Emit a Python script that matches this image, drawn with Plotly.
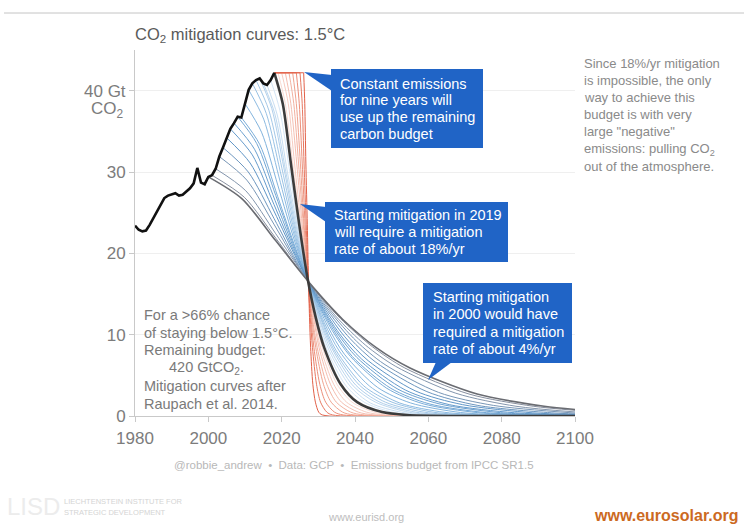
import plotly.graph_objects as go

# ---------------- data ----------------
hist_years = list(range(1980, 2019))
hist_vals = [23.4, 22.9, 22.7, 22.8, 23.5, 24.3, 25.1, 26.0, 26.8, 27.1,
             27.3, 27.4, 27.1, 27.2, 27.6, 28.0, 28.6, 30.5, 28.7, 28.5,
             29.4, 29.6, 30.4, 31.9, 33.0, 34.2, 35.3, 36.0, 36.8, 36.7,
             38.4, 40.1, 40.9, 41.3, 41.5, 40.9, 40.7, 41.3, 42.2]

blue_start_years = list(range(2000, 2018))
blue_curve_years = [
    [2000, 2009.2, 2018.3, 2027.5, 2036.6, 2045.8, 2055.0, 2073.3, 2091.6, 2100],
    [2001, 2009.8, 2018.5, 2027.3, 2036.0, 2044.8, 2053.6, 2071.1, 2088.6, 2100],
    [2002, 2010.2, 2018.4, 2026.6, 2034.7, 2042.9, 2051.1, 2067.5, 2083.9, 2100],
    [2003, 2010.5, 2018.0, 2025.4, 2032.9, 2040.4, 2047.9, 2062.8, 2077.8, 2100],
    [2004, 2010.9, 2017.9, 2024.8, 2031.8, 2038.7, 2045.7, 2059.6, 2073.5, 2094.3, 2100],
    [2005, 2011.4, 2017.9, 2024.3, 2030.7, 2037.1, 2043.6, 2056.4, 2069.3, 2088.5, 2100],
    [2006, 2012.0, 2017.9, 2023.9, 2029.9, 2035.8, 2041.8, 2053.7, 2065.7, 2083.5, 2100],
    [2007, 2012.6, 2018.2, 2023.8, 2029.4, 2035.0, 2040.5, 2051.7, 2062.9, 2079.7, 2096.4, 2100],
    [2008, 2013.2, 2018.4, 2023.7, 2028.9, 2034.1, 2039.3, 2049.8, 2060.2, 2075.9, 2091.5, 2100],
    [2009, 2014.0, 2018.9, 2023.9, 2028.8, 2033.8, 2038.8, 2048.7, 2058.6, 2073.5, 2088.4, 2100],
    [2010, 2014.5, 2019.0, 2023.6, 2028.1, 2032.6, 2037.1, 2046.2, 2055.2, 2068.8, 2082.3, 2100],
    [2011, 2015.1, 2019.2, 2023.3, 2027.5, 2031.6, 2035.7, 2043.9, 2052.2, 2064.5, 2076.8, 2100],
    [2012, 2015.8, 2019.6, 2023.4, 2027.2, 2031.0, 2034.8, 2042.4, 2050.1, 2061.5, 2072.9, 2100],
    [2013, 2016.5, 2020.1, 2023.6, 2027.1, 2030.7, 2034.2, 2041.2, 2048.3, 2058.9, 2069.5, 2100],
    [2014, 2017.3, 2020.6, 2023.8, 2027.1, 2030.4, 2033.7, 2040.2, 2046.8, 2056.6, 2066.4, 2100],
    [2015, 2018.1, 2021.1, 2024.2, 2027.2, 2030.3, 2033.4, 2039.5, 2045.6, 2054.8, 2064.0, 2100],
    [2016, 2018.8, 2021.6, 2024.5, 2027.3, 2030.1, 2032.9, 2038.6, 2044.2, 2052.7, 2061.1, 2100],
    [2017, 2019.5, 2022.1, 2024.6, 2027.2, 2029.7, 2032.3, 2037.4, 2042.5, 2050.1, 2057.7, 2100],
]
blue_curve_values = [
    [29.4, 26.7, 21.6, 16.4, 11.9, 8.4, 5.9, 2.7, 1.2, 0.8],
    [29.6, 26.9, 21.8, 16.5, 12.0, 8.5, 5.9, 2.7, 1.2, 0.7],
    [30.4, 27.7, 22.4, 17.0, 12.3, 8.7, 6.1, 2.8, 1.2, 0.5],
    [31.9, 29.0, 23.5, 17.8, 13.0, 9.2, 6.4, 2.9, 1.3, 0.36],
    [33.0, 30.0, 24.3, 18.4, 13.4, 9.5, 6.6, 3.0, 1.3, 0.37, 0.26],
    [34.2, 31.1, 25.2, 19.1, 13.9, 9.8, 6.8, 3.1, 1.4, 0.39, 0.18],
    [35.3, 32.1, 26.0, 19.7, 14.3, 10.1, 7.0, 3.2, 1.4, 0.40, 0.12],
    [36.0, 32.8, 26.5, 20.1, 14.6, 10.3, 7.2, 3.3, 1.5, 0.41, 0.11, 0.08],
    [36.8, 33.5, 27.1, 20.5, 14.9, 10.6, 7.3, 3.4, 1.5, 0.41, 0.11, 0.05],
    [36.7, 33.4, 27.0, 20.5, 14.9, 10.5, 7.3, 3.4, 1.5, 0.41, 0.11, 0.04],
    [38.4, 34.9, 28.3, 21.4, 15.6, 11.0, 7.6, 3.5, 1.6, 0.43, 0.12, 0.01],
    [40.1, 36.5, 29.5, 22.4, 16.3, 11.5, 8.0, 3.7, 1.6, 0.45, 0.12, 0.0],
    [40.9, 37.2, 30.1, 22.8, 16.6, 11.8, 8.1, 3.7, 1.7, 0.46, 0.12, 0.0],
    [41.3, 37.6, 30.4, 23.0, 16.8, 11.9, 8.2, 3.8, 1.7, 0.47, 0.12, 0.0],
    [41.5, 37.8, 30.5, 23.1, 16.8, 11.9, 8.3, 3.8, 1.7, 0.47, 0.13, 0.0],
    [40.9, 37.2, 30.1, 22.8, 16.6, 11.8, 8.1, 3.7, 1.7, 0.46, 0.12, 0.0],
    [40.7, 37.0, 29.9, 22.7, 16.5, 11.7, 8.1, 3.7, 1.6, 0.46, 0.12, 0.0],
    [41.3, 37.6, 30.4, 23.0, 16.8, 11.9, 8.2, 3.8, 1.7, 0.47, 0.12, 0.0],
]

# mitigation starting 2019 (18%/yr)
m2019_years = [2018, 2020.3, 2022.5, 2024.8, 2027.0, 2029.3, 2031.6, 2036.1, 2040.6, 2047.4, 2054.2, 2100]
m2019_values = [42.2, 38.4, 31.1, 23.5, 17.1, 12.1, 8.4, 3.9, 1.7, 0.48, 0.13, 0.0]

# constant emissions until a given year, then rapid decline
constant_level = 42.2
red_hold_until = [2019, 2020, 2021, 2022, 2023, 2024, 2025, 2026]
red_curve_years = [
    [2019, 2021.0, 2023.0, 2025.1, 2027.1, 2029.1, 2031.1, 2035.1, 2039.2, 2045.2, 2051.3, 2100],
    [2020, 2021.8, 2023.5, 2025.3, 2027.1, 2028.9, 2030.6, 2034.2, 2037.7, 2043.1, 2048.4, 2100],
    [2021, 2022.5, 2024.1, 2025.6, 2027.1, 2028.7, 2030.2, 2033.3, 2036.3, 2040.9, 2045.5, 2100],
    [2022, 2023.3, 2024.6, 2025.9, 2027.2, 2028.4, 2029.7, 2032.3, 2034.9, 2038.8, 2042.6, 2100],
    [2023, 2024.0, 2025.1, 2026.1, 2027.2, 2028.2, 2029.3, 2031.4, 2033.5, 2036.6, 2039.7, 2100],
    [2024, 2024.8, 2025.6, 2026.4, 2027.2, 2028.0, 2028.8, 2030.4, 2032.0, 2034.4, 2036.8, 2100],
    [2025, 2025.6, 2026.1, 2026.7, 2027.2, 2027.8, 2028.4, 2029.5, 2030.6, 2032.3, 2033.9, 2100],
    [2026, 2026.3, 2026.6, 2027.0, 2027.3, 2027.6, 2027.9, 2028.5, 2029.2, 2030.1, 2031.1, 2100],
]
red_curve_values = [42.2, 38.4, 31.1, 23.5, 17.1, 12.1, 8.4, 3.9, 1.7, 0.48, 0.13, 0.0]

x_ticks = [1980, 2000, 2020, 2040, 2060, 2080, 2100]
y_ticks = [0, 10, 20, 30, 40]
y_tick_text = ["0", "10", "20", "30", "40 Gt"]

# ---------------- figure ----------------
PL, PR, PT, PB = 135, 575, 50, 416
W, Hh = 744, 527


def px(x):
    return (x - PL) / (PR - PL)


def py(y):
    return (PB - y) / (PB - PT)


def lerp(stops, t):
    for i in range(len(stops) - 1):
        a, ca = stops[i]
        b, cb = stops[i + 1]
        if a <= t <= b:
            f = (t - a) / (b - a) if b > a else 0
            return 'rgb(%d,%d,%d)' % tuple(round(ca[k] + (cb[k] - ca[k]) * f) for k in range(3))
    return 'rgb(%d,%d,%d)' % stops[-1][1]


fig = go.Figure()

# red: constant emissions then drop
for i, c in enumerate(red_hold_until):
    t = i / (len(red_hold_until) - 1)
    col = lerp([(0, (249, 218, 210)), (0.6, (240, 160, 140)), (1, (226, 96, 72))], t)
    fig.add_trace(go.Scatter(x=[hist_years[-1], c], y=[constant_level, constant_level], mode='lines',
                             line=dict(color=col, width=1), hoverinfo='skip'))
    fig.add_trace(go.Scatter(x=red_curve_years[i], y=red_curve_values, mode='lines',
                             line=dict(color=col, width=1, shape='spline', smoothing=0.8),
                             hoverinfo='skip'))

# blue fan (later starts first so earlier ones lie on top)
n = len(blue_start_years)
for i in range(n - 1, 0, -1):
    t = i / (n - 1)
    col = lerp([(0, (120, 124, 135)), (0.08, (140, 150, 168)), (0.3, (95, 150, 200)),
                (0.6, (130, 180, 222)), (1, (212, 229, 245))], t)
    fig.add_trace(go.Scatter(x=blue_curve_years[i], y=blue_curve_values[i], mode='lines',
                             line=dict(color=col, width=1, shape='spline', smoothing=0.8),
                             hoverinfo='skip'))
fig.add_trace(go.Scatter(x=blue_curve_years[0], y=blue_curve_values[0], mode='lines',
                         line=dict(color='#6a6c72', width=1.6, shape='spline', smoothing=0.8),
                         hoverinfo='skip'))
fig.add_trace(go.Scatter(x=m2019_years, y=m2019_values, mode='lines',
                         line=dict(color='#3c3c3c', width=2.6, shape='spline', smoothing=0.8),
                         hoverinfo='skip'))
fig.add_trace(go.Scatter(x=hist_years, y=hist_vals, mode='lines',
                         line=dict(color='#111111', width=2.6), hoverinfo='skip'))

FONT = 'Liberation Sans, Arial, Helvetica, sans-serif'
axis_col = '#c9c9c9'
fig.update_layout(
    width=W, height=Hh,
    margin=dict(l=PL, r=W - PR, t=PT, b=Hh - PB, pad=0),
    paper_bgcolor='white', plot_bgcolor='white', showlegend=False,
    font=dict(family=FONT),
    xaxis=dict(range=[1980, 2100], tickvals=x_ticks, showgrid=False, zeroline=False,
               showline=True, linecolor=axis_col, linewidth=1, ticks='outside', ticklen=5,
               tickcolor=axis_col, tickfont=dict(size=17, color='#7c7c7c', family=FONT),
               ticklabelstandoff=2),
    yaxis=dict(range=[0, 45], tickvals=y_ticks, ticktext=y_tick_text, showgrid=True,
               gridcolor='#efefef', gridwidth=1, zeroline=False,
               showline=True, linecolor=axis_col, linewidth=1, ticks='outside', ticklen=5,
               tickcolor=axis_col, tickfont=dict(size=17, color='#7c7c7c', family=FONT)),
)

annotations = []
shapes = []


def text(x, y, s, size=14, color='#7a7a7a', anchor='left', weight='normal'):
    annotations.append(dict(x=px(x), y=py(y), xref='paper', yref='paper', text=s,
                            showarrow=False, xanchor=anchor, yanchor='middle',
                            font=dict(size=size, color=color, family=FONT, weight=weight)))


# y-axis unit
text(126, 110, 'CO<sub>2</sub>', size=17, color='#7c7c7c', anchor='right')

# title
text(133, 35, 'CO<sub>2</sub> mitigation curves: 1.5°C', size=16.5, color='#5a5a5a')

# top rule
shapes.append(dict(type='line', xref='paper', yref='paper', x0=px(4), x1=px(744), y0=py(13), y1=py(13),
                   line=dict(color='#c4c4c4', width=1)))

BOX = '#2064c6'


def callout(x0, y0, x1, y1, tri, lines, tx, ty0, dy):
    shapes.append(dict(type='rect', xref='paper', yref='paper', x0=px(x0), x1=px(x1),
                       y0=py(y1), y1=py(y0), fillcolor=BOX, line=dict(width=0), layer='above'))
    path = 'M %f %f L %f %f L %f %f Z' % (px(tri[0][0]), py(tri[0][1]), px(tri[1][0]), py(tri[1][1]),
                                          px(tri[2][0]), py(tri[2][1]))
    shapes.append(dict(type='path', xref='paper', yref='paper', path=path, fillcolor=BOX,
                       line=dict(width=0), layer='above'))
    for k, s in enumerate(lines):
        text(tx, ty0 + k * dy, s, size=14.5, color='white')


callout(331, 69, 483, 148, [(332, 75), (304, 72), (332, 91)],
        ['Constant emissions', 'for nine years will', 'use up the remaining', 'carbon budget'],
        338, 83.5, 16.8)
callout(325, 202, 508, 262, [(326, 207), (300, 204), (326, 222)],
        ['Starting mitigation in 2019', 'will require a mitigation', 'rate of about 18%/yr'],
        332, 215, 17.2)
callout(423, 283, 572, 363, [(436, 362), (428, 380), (452, 362)],
        ['Starting mitigation', 'in 2000 would have', 'required a mitigation', 'rate of about 4%/yr'],
        431, 296.7, 17.5)

# left note
left_lines = ['For a >66% chance', 'of staying below 1.5°C.', 'Remaining budget:',
              '420 GtCO<sub>2</sub>.', 'Mitigation curves after', 'Raupach et al. 2014.']
for k, s in enumerate(left_lines):
    text(166.5 if k == 3 else 142, 315 + k * 17.7, s, size=14.5, color='#7a7a7a')

# right note
right_lines = ['Since 18%/yr mitigation', 'is impossible, the only', 'way to achieve this',
               'budget is with very', 'large "negative"', 'emissions: pulling CO<sub>2</sub>',
               'out of the atmosphere.']
for k, s in enumerate(right_lines):
    text(582, 63 + k * 17.2, s, size=13, color='#8a8a8a')

# footer
text(354, 465, '@robbie_andrew  •  Data: GCP  •  Emissions budget from IPCC SR1.5', size=11.5,
     color='#b8b8b8', anchor='center')
text(5, 506, 'LISD', size=24, color='#ececec')
text(62, 501, 'LIECHTENSTEIN INSTITUTE FOR', size=7.5, color='#d4d4d4')
text(62, 512, 'STRATEGIC DEVELOPMENT', size=7.5, color='#d4d4d4')
text(366, 517, 'www.eurisd.org', size=11, color='#bdbdbd', anchor='center')
text(740, 515, 'www.eurosolar.org', size=16, color='#cc6a1f', anchor='right', weight='bold')

fig.update_layout(annotations=annotations, shapes=shapes)
fig.write_html("out.html", config={'displayModeBar': False},
               post_script="document.body.style.margin='0px';document.body.style.overflow='hidden';")
